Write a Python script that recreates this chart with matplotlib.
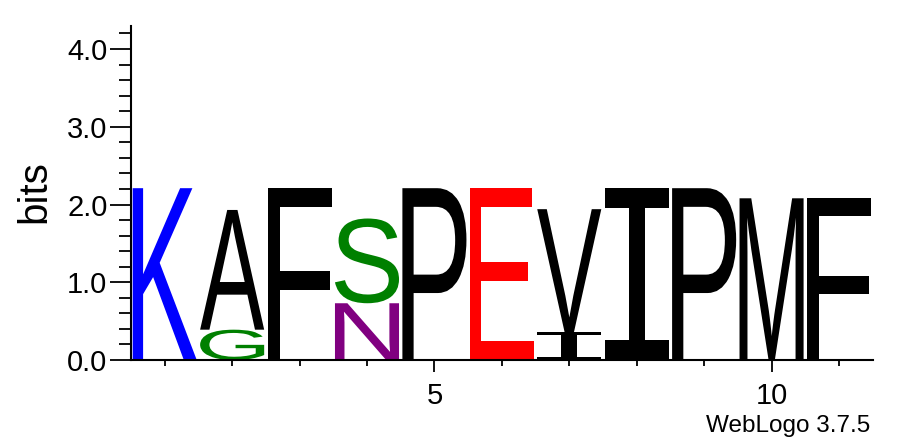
import matplotlib
matplotlib.use("Agg")
import matplotlib.pyplot as plt
from matplotlib.textpath import TextPath
from matplotlib.font_manager import FontProperties
from matplotlib.patches import PathPatch
from matplotlib.transforms import Affine2D
import numpy as np

# stacks per position, bottom to top
positions = list(range(1, 12))
letters = [['K'], ['G', 'A'], ['F'], ['N', 'S'], ['P'], ['E'],
           ['I', 'V'], ['I'], ['P'], ['M'], ['F']]
heights = [[2.21], [0.39, 1.54], [2.21], [0.73, 1.09], [2.21], [2.21],
           [0.36, 1.58], [2.21], [2.21], [2.08], [2.08]]

colors = {'K': '#0000ff', 'G': '#008000', 'S': '#008000', 'N': '#800080',
          'E': '#ff0000'}

plt.rcParams['font.family'] = 'Liberation Sans'

fig = plt.figure(figsize=(8.97, 4.44), dpi=100)
ax = fig.add_axes([131 / 897, 84 / 444, (872.7 - 131) / 897, (360 - 25.7) / 444])

fp_main = FontProperties(family='Liberation Sans')
fp_i = FontProperties(family='DejaVu Sans Mono')
col_w = 0.95


def draw_letter(ch, x, y0, h):
    fp = fp_i if ch == 'I' else fp_main
    tp = TextPath((0, 0), ch, size=1, prop=fp)
    bb = tp.get_extents()
    t = (Affine2D().translate(-bb.x0, -bb.y0)
         .scale(col_w / bb.width, h / bb.height)
         .translate(x - col_w / 2, y0))
    ax.add_patch(PathPatch(tp, transform=t + ax.transData,
                           facecolor=colors.get(ch, 'black'), edgecolor='none'))


for pos, stack, hs in zip(positions, letters, heights):
    y = 0
    for ch, h in zip(stack, hs):
        draw_letter(ch, pos, y, h)
        y += h

ax.set_xlim(0.5, 11.5)
ax.set_ylim(0, 4.3)

for s in ['top', 'right']:
    ax.spines[s].set_visible(False)
for s in ['left', 'bottom']:
    ax.spines[s].set_linewidth(1.5)

ax.set_yticks(np.arange(0, 4.01, 1.0))
ax.set_yticklabels(['0.0', '1.0', '2.0', '3.0', '4.0'])
ax.set_yticks(np.arange(0, 4.21, 0.2), minor=True)
ax.set_xticks([5, 10])
ax.set_xticklabels(['5', '10'])
ax.set_xticks([p for p in positions if p not in (5, 10)], minor=True)

ax.tick_params(axis='y', which='major', length=15, width=1.3, pad=2, labelsize=21)
ax.tick_params(axis='y', which='minor', length=9, width=1.3)
ax.tick_params(axis='x', which='major', length=8.5, width=1.3, pad=7, labelsize=21)
ax.tick_params(axis='x', which='minor', length=4.3, width=1.3)

fig.text(34 / 897, 1 - 192 / 444, 'bits', rotation=90, ha='center', va='center',
         fontsize=29)
fig.text(870 / 897, 1 - 426 / 444, 'WebLogo 3.7.5', ha='right', va='center',
         fontsize=17.5)

fig.savefig('out.png', dpi=100)
